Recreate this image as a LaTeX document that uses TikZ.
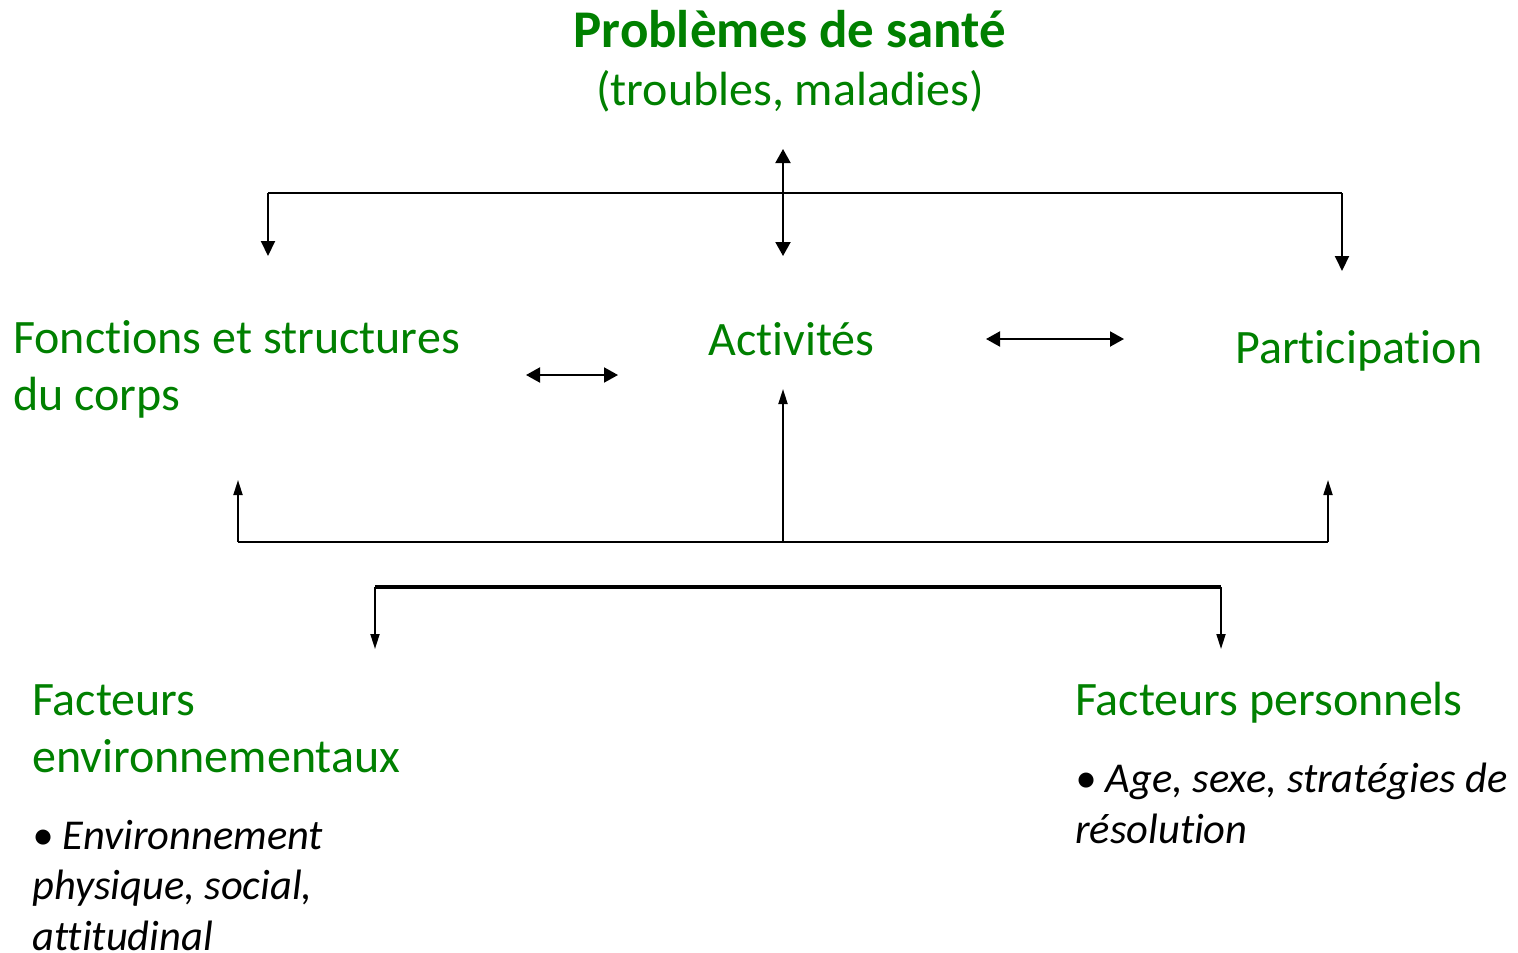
\documentclass[tikz,border=0pt]{standalone}
\usepackage{fontspec}
\setmainfont{Carlito}[Ligatures=NoCommon]
\usepackage{tikz}
\usetikzlibrary{arrows.meta}
\definecolor{icfgreen}{RGB}{0,128,0}

\begin{document}
\begin{tikzpicture}[x=1pt,y=-1pt,
        label/.style={text=icfgreen, inner sep=0pt, anchor=base west, align=left, font=\fontsize{48}{57}\selectfont},
        detail/.style={inner sep=0pt, anchor=base west, align=left, font=\fontsize{42.5}{50.5}\selectfont\itshape},
        link/.style={line width=2pt, -{Triangle[length=15pt,width=14pt]}},
        thinlink/.style={line width=1.8pt, -{Triangle[length=15pt,width=9pt]}},
        twolink/.style={line width=2pt, {Triangle[length=14pt,width=15pt]}-{Triangle[length=14pt,width=15pt]}}]
        \useasboundingbox (0,0) rectangle (1518,953);
        
        \node[label, anchor=base, font=\fontsize{53}{57}\selectfont\bfseries] (sante) at (790,47) {Problèmes de santé};
        \node[label, anchor=base] (troubles) at (790,105) {(troubles, maladies)};
        \node[label] (fonctions) at (13,410) {Fonctions et structures\\du corps};
        \node[label] (activites) at (708,355) {Activités};
        \node[label] (participation) at (1235,363) {Participation};
        \node[label] (envir) at (32,772) {Facteurs\\environnementaux};
        \node[detail] (envirdet) at (32,950) {\textbullet\ Environnement\\physique, social,\\attitudinal};
        \node[label] (perso) at (1075,715) {Facteurs personnels};
        \node[detail] (persodet) at (1075,843) {\textbullet\ Age, sexe, stratégies de\\résolution};
        
        % bus lines
        \coordinate (t1) at (268,193);
        \coordinate (t2) at (783,193);
        \coordinate (t3) at (1342,193);
        \coordinate (b1) at (238,542);
        \coordinate (b2) at (783,542);
        \coordinate (b3) at (1328,542);
        \coordinate (f1) at (375,587);
        \coordinate (f2) at (1221,587);
        % arrow ends
        \coordinate (t1e) at (268,256);
        \coordinate (t3e) at (1342,271);
        \coordinate (t2a) at (783,149);
        \coordinate (t2b) at (783,256);
        \coordinate (b1e) at (238,480);
        \coordinate (b3e) at (1328,480);
        \coordinate (b2e) at (783,389);
        \coordinate (f1e) at (375,649);
        \coordinate (f2e) at (1221,649);
        \coordinate (h1a) at (526,375);
        \coordinate (h1b) at (618,375);
        \coordinate (h2a) at (986,339);
        \coordinate (h2b) at (1124,339);
        
        \draw[line width=2.2pt] (t1) -- (t3);
        \draw[link] (t1) -- (t1e);
        \draw[link] (t3) -- (t3e);
        \draw[twolink] (t2a) -- (t2b);
        \draw[line width=2.2pt] (b1) -- (b3);
        \draw[thinlink] (b1) -- (b1e);
        \draw[thinlink] (b3) -- (b3e);
        \draw[thinlink] (b2) -- (b2e);
        \draw[line width=3.5pt] (f1) -- (f2);
        \draw[thinlink] (f1) -- (f1e);
        \draw[thinlink] (f2) -- (f2e);
        \draw[twolink] (h1a) -- (h1b);
        \draw[twolink] (h2a) -- (h2b);
        
        \end{tikzpicture}
\end{document}
